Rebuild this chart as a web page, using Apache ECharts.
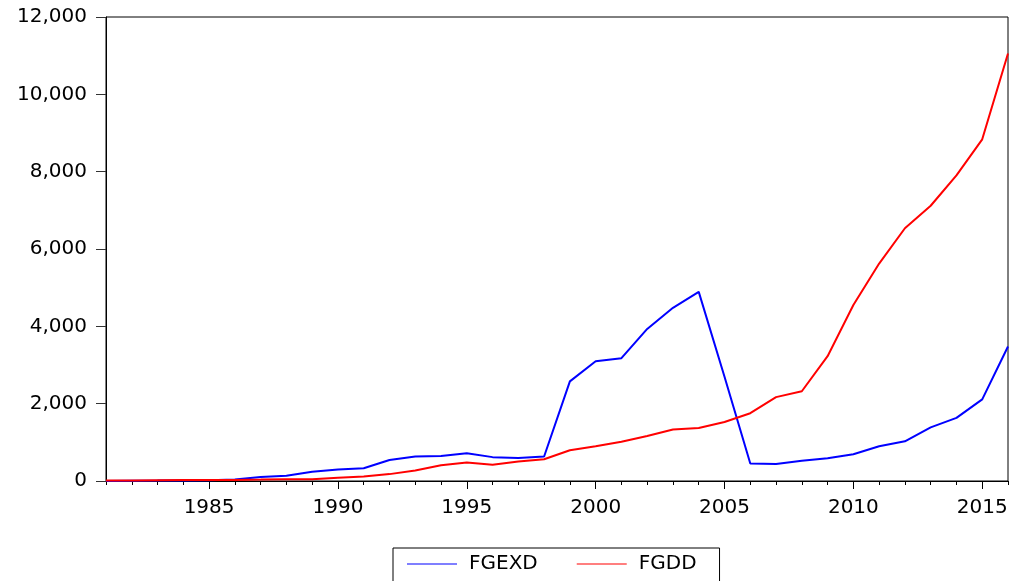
<!DOCTYPE html>
<html>
<head>
<meta charset="utf-8">
<script src="https://cdn.jsdelivr.net/npm/echarts@6/dist/echarts.min.js"></script>
<style>html,body{margin:0;padding:0;background:#fff}#c{width:1011px;height:581px}</style>
</head>
<body>
<div id="c"></div>
<script>
const years = [];
for (let y = 1981; y <= 2016; y++) years.push(String(y));
const seriesNames = ['FGEXD', 'FGDD'];
const fgexd = [2.33, 8.82, 10.58, 14.81, 17.3, 41.45, 100.79, 133.96, 240.39, 298.61,
  328.45, 544.26, 633.14, 648.81, 716.87, 617.32, 595.93, 633.02, 2577.37, 3097.38,
  3176.29, 3932.88, 4478.33, 4890.27, 2695.07, 451.46, 438.89, 523.25, 590.44, 689.84,
  896.85, 1026.9, 1387.33, 1631.5, 2111.53, 3478.91];
const fgdd = [11.19, 15.01, 22.22, 25.67, 27.95, 28.44, 36.79, 47.03, 47.05, 84.09,
  116.2, 177.96, 273.84, 407.58, 477.73, 419.98, 501.75, 560.83, 794.81, 898.25,
  1016.97, 1166.0, 1329.68, 1370.33, 1525.91, 1753.26, 2169.63, 2320.31, 3228.03, 4551.82,
  5622.84, 6537.54, 7118.97, 7904.03, 8837.0, 11058.2];
const yTicks = {min: 0, max: 12000, interval: 2000};

const FONT = 'DejaVu Sans';
const every5 = (i, v) => Number(v) % 5 === 0;
const chart = echarts.init(document.getElementById('c'), null, {renderer: 'canvas'});
chart.setOption({
  animation: false,
  textStyle: {fontFamily: FONT, color: '#000'},
  grid: {left: 106, right: 3, top: 17, bottom: 100, show: true, borderColor: '#000', borderWidth: 1, backgroundColor: 'transparent'},
  legend: {
    data: seriesNames,
    left: 393, top: 548,
    padding: [6, 23, 30, 14],
    borderColor: '#000', borderWidth: 1,
    itemWidth: 50, itemHeight: 14, itemGap: 39,
    icon: 'path://M0,0 L50,0 L50,1 L0,1 Z',
    textStyle: {fontFamily: FONT, fontSize: 20, color: '#000', padding: [0, 0, 0, 7]}
  },
  xAxis: [{
    type: 'category', data: years, boundaryGap: false,
    axisLine: {lineStyle: {color: '#000', width: 1}},
    axisTick: {show: true, interval: 0, length: 4, lineStyle: {color: '#000'}},
    axisLabel: {show: false},
    splitLine: {show: false}
  }, {
    type: 'category', data: years, boundaryGap: false, position: 'bottom',
    axisLine: {show: false},
    axisTick: {show: true, interval: every5, length: 8, lineStyle: {color: '#000'}},
    axisLabel: {interval: every5, fontFamily: FONT, fontSize: 20, color: '#000', margin: 17},
    splitLine: {show: false}
  }],
  yAxis: {
    type: 'value', min: yTicks.min, max: yTicks.max, interval: yTicks.interval,
    axisLine: {show: true, lineStyle: {color: '#000', width: 1}},
    axisTick: {show: true, length: 10, lineStyle: {color: '#333'}},
    axisLabel: {fontFamily: FONT, fontSize: 20, color: '#000', margin: 19,
      formatter: v => v.toLocaleString('en-US')},
    splitLine: {show: false}
  },
  series: [{
    name: seriesNames[0], type: 'line', data: fgexd, xAxisIndex: 0,
    symbol: 'none', lineStyle: {color: '#0000ff', width: 2}, itemStyle: {color: '#0000ff'}
  }, {
    name: seriesNames[1], type: 'line', data: fgdd, xAxisIndex: 0,
    symbol: 'none', lineStyle: {color: '#ff0000', width: 2}, itemStyle: {color: '#ff0000'}
  }]
});
</script>
</body>
</html>
